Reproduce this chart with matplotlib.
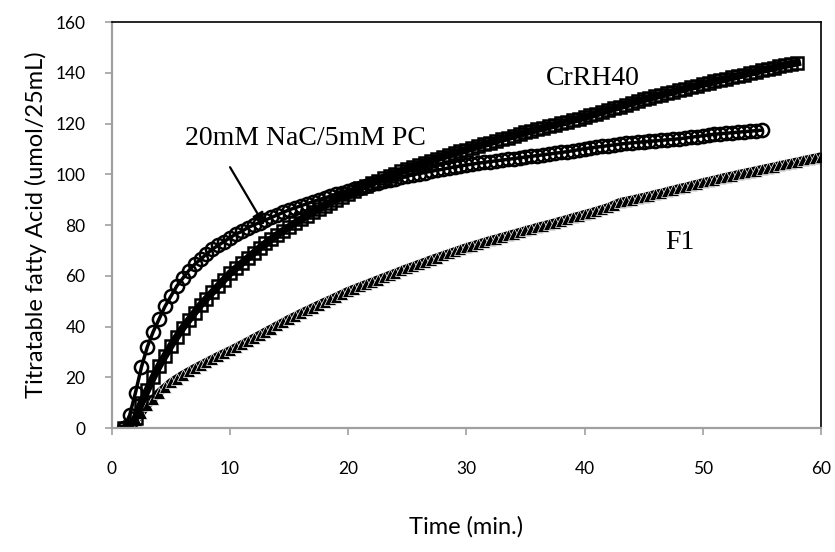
import numpy as np
import matplotlib
matplotlib.use("Agg")
import matplotlib.pyplot as plt

# readings every 0.5 min
nac_start = 1.0
nac_pc = [0, 5, 14, 24, 32, 38, 43, 48, 52, 56, 59, 62, 64.5, 66.5, 68.5, 70.5,
          72, 73.5, 75, 76.5, 77.5, 79, 80, 81, 82, 83, 84, 85, 86, 86.8, 87.6,
          88.4, 89.2, 90, 90.7, 91.4, 92.1, 92.8, 93.5, 94.1, 94.8, 95.4, 96,
          96.6, 97.2, 97.7, 98.2, 98.8, 99.3, 99.8, 100.3, 100.7, 101.2, 101.6,
          102, 102.5, 102.9, 103.3, 103.7, 104, 104.4, 104.7, 105, 105.3, 105.6,
          105.9, 106.2, 106.5, 106.8, 107.1, 107.4, 107.7, 108, 108.3, 108.6,
          108.9, 109.3, 109.7, 110.1, 110.4, 110.7, 111, 111.3, 111.6, 111.9,
          112.2, 112.4, 112.6, 112.8, 113, 113.2, 113.4, 113.6, 113.8, 114,
          114.3, 114.6, 114.9, 115.2, 115.5, 115.8, 116, 116.2, 116.4, 116.6,
          116.8, 117, 117.2, 117.4]

crrh_start = 1.0
crrh40 = [0, 0.5, 4, 10, 15, 20, 24.5, 28.5, 32.5, 36, 39.5, 42.5, 45.5, 48.5,
          51, 53.5, 56, 58.5, 61, 63, 65, 67, 69, 71, 72.8, 74.5, 76.2, 77.8,
          79.3, 80.8, 82.2, 83.6, 85, 86.3, 87.6, 88.8, 90, 91.2, 92.3, 93.4,
          94.5, 95.5, 96.5, 97.5, 98.5, 99.4, 100.3, 101.2, 102.1, 102.9, 103.7,
          104.5, 105.3, 106.1, 106.9, 107.6, 108.3, 109, 109.7, 110.4, 111.1,
          111.8, 112.5, 113.2, 113.9, 114.5, 115.2, 115.8, 116.5, 117.1, 117.7,
          118.3, 118.9, 119.5, 120.1, 120.7, 121.3, 121.9, 122.5, 123.2, 123.9,
          124.6, 125.3, 126, 126.7, 127.4, 128.1, 128.8, 129.5, 130.1, 130.7,
          131.3, 131.9, 132.5, 133.1, 133.7, 134.3, 134.9, 135.5, 136, 136.6,
          137.1, 137.7, 138.2, 138.8, 139.3, 139.9, 140.4, 141, 141.5, 142,
          142.5, 143, 143.5, 144]

f1_start = 1.5
f1 = [0, 3, 6, 9, 11.5, 14, 16, 18, 19.5, 21, 22.3, 23.6, 24.8, 26, 27.2, 28.4,
      29.5, 30.6, 31.8, 33, 34.2, 35.5, 36.7, 38, 39.2, 40.5, 41.7, 43, 44.1,
      45.3, 46.4, 47.5, 48.6, 49.7, 50.7, 51.8, 52.9, 54, 54.9, 55.8, 56.7,
      57.6, 58.5, 59.4, 60.3, 61.2, 62.1, 63, 63.8, 64.7, 65.5, 66.4, 67.2, 68,
      68.8, 69.6, 70.4, 71.2, 71.9, 72.6, 73.3, 74, 74.6, 75.3, 75.9, 76.6,
      77.2, 77.9, 78.5, 79.2, 79.8, 80.4, 81, 81.7, 82.3, 83, 83.6, 84.3, 84.9,
      85.6, 86.3, 87, 88, 89, 89.5, 90, 90.5, 91, 91.6, 92.2, 92.7, 93.3, 93.9,
      94.5, 95, 95.6, 96.2, 96.8, 97.3, 97.9, 98.4, 99, 99.5, 100, 100.5, 101,
      101.5, 102, 102.5, 103, 103.5, 104, 104.5, 105, 105.5, 106, 106.5, 107]

def times(start, vals):
    return start + 0.5 * np.arange(len(vals))

fig = plt.figure(figsize=(8.35, 5.52), dpi=100)
ax = fig.add_axes([0.134, 0.2246, 0.849, 0.7354])

# dense Excel-style markers: thick joining line plus markers
ax.plot(times(f1_start, f1), f1, color='black', lw=6, marker='^', markersize=9,
        markeredgecolor='white', markeredgewidth=0.5)
ax.plot(times(crrh_start, crrh40), crrh40, color='black', lw=5.5, marker='s', markersize=8,
        markerfacecolor='none', markeredgecolor='black', markeredgewidth=1.8)
ax.plot(times(nac_start, nac_pc), nac_pc, color='black', lw=2.5, marker='o', markersize=9.5,
        markerfacecolor='none', markeredgecolor='black', markeredgewidth=1.8)

ax.set_xlim(0, 60)
ax.set_ylim(0, 160)
ax.set_xticks(range(0, 61, 10))
ax.set_yticks(range(0, 161, 20))

tick_font = {'family': 'Lato', 'size': 12.5}
ax.set_xticklabels([str(v) for v in range(0, 61, 10)], fontdict=tick_font)
ax.set_yticklabels([str(v) for v in range(0, 161, 20)], fontdict=tick_font)
ax.tick_params(axis='both', direction='out', length=5, width=1.2, color='#a0a0a0')
ax.tick_params(axis='x', pad=19)
ax.tick_params(axis='y', pad=14)

for s in ('left', 'bottom'):
    ax.spines[s].set_color('#a0a0a0')
    ax.spines[s].set_linewidth(1.6)
for s in ('top', 'right'):
    ax.spines[s].set_color('black')
    ax.spines[s].set_linewidth(1.2)

ax.set_xlabel('Time (min.)', family='Lato', fontsize=17, labelpad=28)
ax.set_ylabel('Titratable fatty Acid (umol/25mL)', family='Lato', fontsize=17, labelpad=6)

serif = 'Liberation Serif'
ax.text(40.7, 137.8, 'CrRH40', family=serif, fontsize=20, ha='center', va='center')
ax.text(48.1, 73.2, 'F1', family=serif, fontsize=20, ha='center', va='center')
ax.text(16.4, 114, '20mM NaC/5mM PC', family=serif, fontsize=20, ha='center', va='center')
ax.annotate('', xy=(12.9, 80), xytext=(10.0, 102.8),
            arrowprops=dict(arrowstyle='-|>', color='black', lw=1.6,
                            shrinkA=0, shrinkB=0, mutation_scale=18))

fig.savefig('out.png', dpi=100)
